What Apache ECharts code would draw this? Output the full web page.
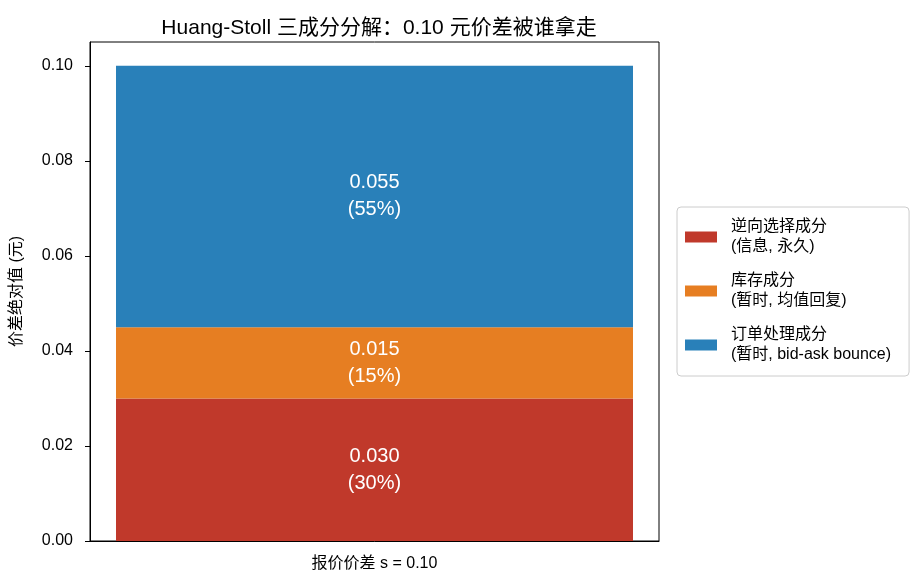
<!DOCTYPE html>
<html>
<head>
<meta charset="utf-8">
<script src="https://cdn.jsdelivr.net/npm/echarts@6/dist/echarts.min.js"></script>
<style>
  html, body { margin: 0; padding: 0; background: #fff; }
  #main { width: 921px; height: 585px; }
</style>
</head>
<body>
<div id="main"></div>
<script>
var FONT = '"Liberation Sans", "Noto Sans CJK SC", sans-serif';

// 数据
var categories = ['报价价差 s = 0.10'];
var componentNames = ['逆向选择成分\n(信息, 永久)', '库存成分\n(暂时, 均值回复)', '订单处理成分\n(暂时, bid-ask bounce)'];
var componentValues = [0.030, 0.015, 0.055];
var componentShares = [30, 15, 55];
var componentColors = ['#c0392b', '#e67e22', '#2980b9'];

var myChart = echarts.init(document.getElementById('main'));

var series = componentNames.map(function (name, i) {
  return {
    name: name,
    type: 'bar',
    stack: 'total',
    barWidth: 517,
    itemStyle: { color: componentColors[i] },
    label: {
      show: true,
      position: 'inside',
      color: '#fff',
      fontSize: 20,
      lineHeight: 27,
      fontFamily: FONT,
      formatter: function () {
        return componentValues[i].toFixed(3) + '\n(' + componentShares[i] + '%)';
      }
    },
    data: [componentValues[i]]
  };
});

var option = {
  animation: false,
  title: {
    text: 'Huang-Stoll 三成分分解：0.10 元价差被谁拿走',
    left: 374,
    textAlign: 'center',
    top: 13,
    textStyle: { fontSize: 21, fontWeight: 'normal', color: '#000', fontFamily: FONT }
  },
  legend: {
    orient: 'vertical',
    left: 677,
    top: 207,
    padding: [10, 18, 11, 8],
    itemWidth: 32,
    itemHeight: 11,
    itemGap: 14,
    borderColor: '#ccc',
    borderWidth: 1,
    borderRadius: 4,
    icon: 'rect',
    textStyle: { fontSize: 16, lineHeight: 20, color: '#000', fontFamily: FONT, padding: [0, 0, 0, 9] },
    data: componentNames
  },
  grid: {
    left: 90,
    top: 42,
    width: 569,
    height: 499,
    show: true,
    borderColor: '#000',
    borderWidth: 1
  },
  xAxis: {
    type: 'category',
    data: categories,
    axisLine: { lineStyle: { color: '#000' } },
    axisTick: { alignWithLabel: true, length: 5, lineStyle: { color: '#000' } },
    axisLabel: { color: '#000', fontSize: 16, margin: 15, fontFamily: FONT }
  },
  yAxis: {
    type: 'value',
    min: 0,
    max: 0.105,
    interval: 0.02,
    name: '价差绝对值 (元)',
    nameLocation: 'middle',
    nameGap: 65,
    nameTextStyle: { fontSize: 16, color: '#000', fontFamily: FONT },
    axisLine: { show: true, lineStyle: { color: '#000' } },
    axisTick: { show: true, length: 5, lineStyle: { color: '#000' } },
    splitLine: { show: false },
    axisLabel: {
      color: '#000',
      fontSize: 16,
      margin: 17,
      fontFamily: FONT,
      showMaxLabel: false,
      formatter: function (v) { return v.toFixed(2); }
    }
  },
  series: series
};

myChart.setOption(option);
</script>
</body>
</html>
